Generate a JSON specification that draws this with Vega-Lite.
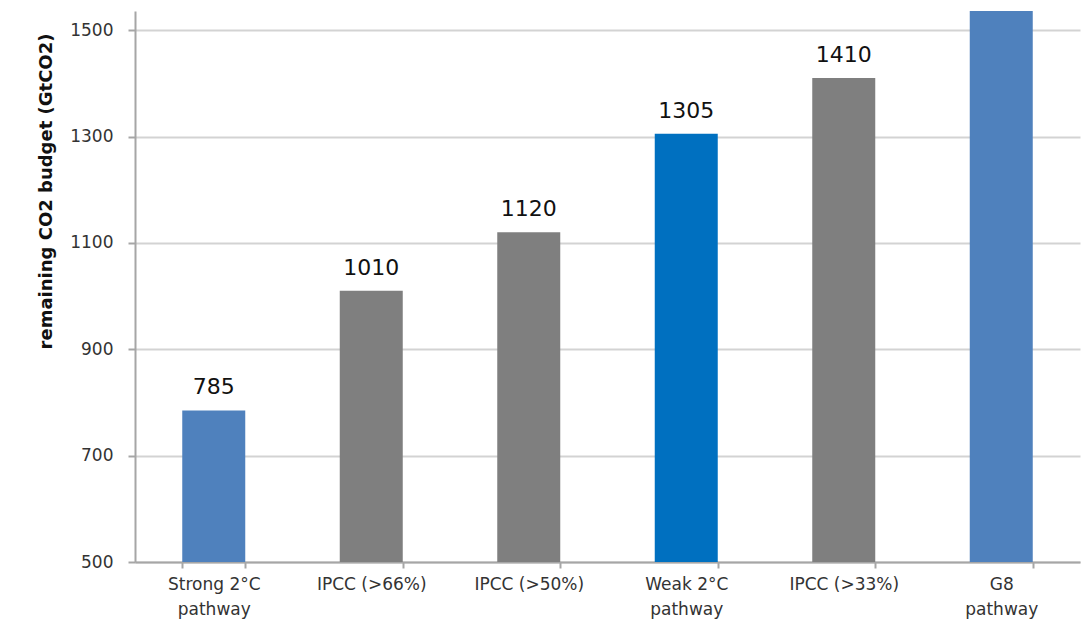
{
  "$schema": "https://vega.github.io/schema/vega-lite/v6.json",
  "autosize": {"type": "none"},
  "width": 945,
  "height": 551,
  "padding": {"left": 135, "top": 11, "right": 11, "bottom": 70},
  "background": "white",
  "config": {
    "view": {"stroke": null},
    "font": "DejaVu Sans"
  },
  "data": {
    "values": [
      {"scenario": "Strong 2°C pathway", "budget": 785, "group": "strong", "label": "785"},
      {"scenario": "IPCC (>66%)", "budget": 1010, "group": "ipcc", "label": "1010"},
      {"scenario": "IPCC (>50%)", "budget": 1120, "group": "ipcc", "label": "1120"},
      {"scenario": "Weak 2°C pathway", "budget": 1305, "group": "weak", "label": "1305"},
      {"scenario": "IPCC (>33%)", "budget": 1410, "group": "ipcc", "label": "1410"},
      {"scenario": "G8 pathway", "budget": 1600, "group": "g8", "label": ""}
    ]
  },
  "encoding": {
    "x": {
      "field": "scenario",
      "type": "nominal",
      "sort": null,
      "scale": {"paddingInner": 0.6, "paddingOuter": 0.3},
      "axis": {
        "title": null,
        "labelAngle": 0,
        "labelFontSize": 17,
        "labelColor": "#333333",
        "labelPadding": 8,
        "labelLineHeight": 25,
        "labelExpr": "indexof(datum.label, 'pathway') > 0 ? [replace(datum.label, ' pathway', ''), 'pathway'] : datum.label",
        "domainColor": "#a6a6a6",
        "domainWidth": 2,
        "tickBand": "extent",
        "ticks": true,
        "tickColor": "#a6a6a6",
        "tickWidth": 2,
        "tickSize": 6,
        "grid": false
      }
    },
    "y": {
      "field": "budget",
      "type": "quantitative",
      "scale": {"domain": [500, 1536], "nice": false, "zero": false},
      "axis": {
        "title": "remaining CO2 budget (GtCO2)",
        "titleFontSize": 18,
        "titleFontWeight": "bold",
        "titleColor": "#111111",
        "titleY": 180,
        "titleX": -98,
        "titleAlign": "center",
        "titleAngle": -90,
        "titleBaseline": "top",
        "values": [500, 700, 900, 1100, 1300, 1500],
        "format": "d",
        "labelFontSize": 17,
        "labelColor": "#333333",
        "labelPadding": 15,
        "grid": true,
        "gridColor": "#d3d3d3",
        "gridWidth": 2,
        "domainColor": "#a6a6a6",
        "domainWidth": 2,
        "tickColor": "#a6a6a6",
        "tickWidth": 2,
        "tickSize": 7
      }
    }
  },
  "layer": [
    {
      "mark": {"type": "bar", "clip": true},
      "encoding": {
        "color": {
          "field": "group",
          "type": "nominal",
          "scale": {"domain": ["strong", "ipcc", "weak", "g8"], "range": ["#4f81bd", "#7f7f7f", "#0070c0", "#4f81bd"]},
          "legend": null
        }
      }
    },
    {
      "mark": {"type": "text", "fontSize": 22, "dy": -16, "baseline": "alphabetic", "color": "#111111"},
      "encoding": {
        "text": {"field": "label"}
      }
    }
  ]
}
